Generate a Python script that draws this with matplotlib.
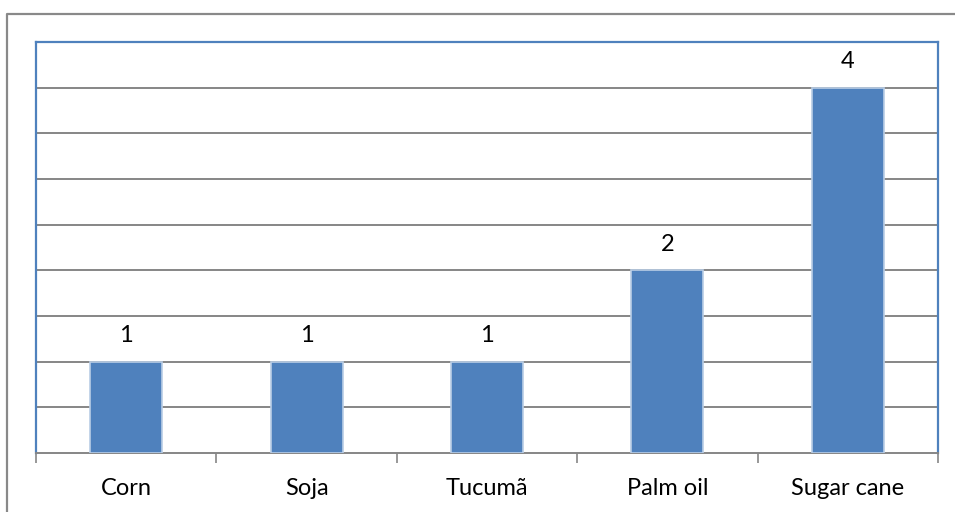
import matplotlib.pyplot as plt
from matplotlib.lines import Line2D
import numpy as np

# datos del gráfico
cultivos = ["Corn", "Soja", "Tucumã", "Palm oil", "Sugar cane"]
valores = [1, 1, 1, 2, 4]

azul = "#4F81BD"
gris = "#868686"

plt.rcParams["font.family"] = ["Lato", "DejaVu Sans"]

fig = plt.figure(figsize=(9.55, 5.12), dpi=100)
ax = fig.add_axes([36 / 955, 1 - 453 / 512, (938 - 36) / 955, (453 - 42) / 512])

x = np.arange(len(cultivos))
barras = ax.bar(x, valores, width=0.4, color=azul, edgecolor="#B9CDE5",
                linewidth=1.2, zorder=3)
for b, v in zip(barras, valores):
    ax.text(b.get_x() + b.get_width() / 2, v + 0.17, str(v),
            ha="center", va="bottom", fontsize=17, color="black")

ax.set_xlim(-0.5, len(cultivos) - 0.5)
ax.set_ylim(0, 4.5)
ax.set_yticks(np.arange(0.5, 4.5, 0.5))
ax.yaxis.grid(True, color=gris, linewidth=1.4, zorder=0)
ax.tick_params(axis="y", left=False, labelleft=False)

# marcas del eje x entre categorías
ax.set_xticks(np.arange(-0.5, len(cultivos), 1.0))
ax.set_xticklabels([])
ax.tick_params(axis="x", direction="out", length=7, width=1.2, color=gris)
ax.set_xticks(x, minor=True)
ax.set_xticklabels(cultivos, minor=True, fontsize=17)
ax.tick_params(axis="x", which="minor", length=0, pad=18)

for lado in ["left", "top", "right"]:
    ax.spines[lado].set_color(azul)
    ax.spines[lado].set_linewidth(1.6)
ax.spines["bottom"].set_color(gris)
ax.spines["bottom"].set_linewidth(1.4)

# marco exterior del gráfico
fig.add_artist(Line2D([6.5 / 955, 6.5 / 955, 1], [0, 1 - 13.5 / 512, 1 - 13.5 / 512],
                      transform=fig.transFigure, color="#898989", linewidth=1.6))

fig.savefig("out.png", dpi=100)
